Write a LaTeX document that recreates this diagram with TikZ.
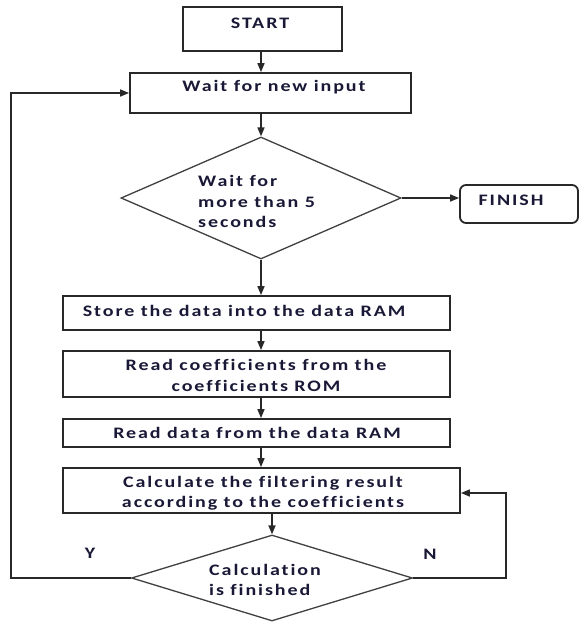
\documentclass[tikz,border=0pt]{standalone}
\usepackage{fontspec}
\setmainfont{Carlito}[LetterSpace=12, FakeStretch=1.25, Ligatures=NoCommon]
\usetikzlibrary{shapes.geometric,arrows.meta}
\definecolor{textc}{RGB}{25,25,55}
\definecolor{linec}{RGB}{40,40,40}
\begin{document}
\begin{tikzpicture}[x=1pt,y=-1pt,
  box/.style={draw=linec, line width=1.8pt, rectangle, inner sep=0pt},
  rbox/.style={box, rounded corners=6pt},
  dia/.style={draw=black!75, line width=1.3pt, diamond, inner sep=0pt},
  txt/.style={font=\bfseries\fontsize{16}{20.5}\selectfont, text=textc, inner sep=0pt, align=center},
  arr/.style={draw=linec, line width=1.6pt, -{Triangle[length=9pt,width=7pt]}}
]
\useasboundingbox (0,0) rectangle (580,623);
\fill[white] (0,0) rectangle (580,623);

% shapes
\node[box, minimum width=159, minimum height=44] (start) at (262.5,29) {};
\node[box, minimum width=281, minimum height=40] (wait) at (270.5,93) {};
\node[dia, minimum width=280, minimum height=122] (d1) at (261,198) {};
\node[rbox, minimum width=118, minimum height=38] (finish) at (519,204) {};
\node[box, minimum width=387, minimum height=34] (store) at (256.5,313) {};
\node[box, minimum width=387, minimum height=46] (rc) at (256.5,374) {};
\node[box, minimum width=387, minimum height=28] (rd) at (256.5,433) {};
\node[box, minimum width=397, minimum height=45] (calc) at (261.5,490.5) {};
\node[dia, minimum width=281, minimum height=86] (d2) at (272,578) {};

% texts
\node[txt] (tstart) at (260,23) {START};
\node[txt] (twait) at (274,87) {Wait for new input};
\node[txt, align=left, anchor=west] (td1) at (198,201.5) {Wait for\\more than 5\\seconds};
\node[txt] (tfinish) at (511,200) {FINISH};
\node[txt] (tstore) at (244,311) {Store the data into the data RAM};
\node[txt] (trc) at (256,375.5) {Read coefficients from the\\coefficients ROM};
\node[txt] (trd) at (257,433) {Read data from the data RAM};
\node[txt] (tcalc) at (263,493) {Calculate the filtering result\\according to the coefficients};
\node[txt, align=left, anchor=west] (td2) at (209,580) {Calculation\\is finished};
\node[txt] (ylab) at (90,553) {Y};
\node[txt] (nlab) at (430,554) {N};

% connectors
\draw[arr] (d1.north |- start.south) -- (d1.north |- wait.north);
\draw[arr] (d1.north |- wait.south) -- (d1.north);
\draw[arr] (d1.east) -- (d1.east -| finish.west);
\draw[arr] (d1.south) -- (d1.south |- store.north);
\draw[arr] (d1.south |- store.south) -- (d1.south |- rc.north);
\draw[arr] (d1.south |- rc.south) -- (d1.south |- rd.north);
\draw[arr] (d1.south |- rd.south) -- (d1.south |- calc.north);
\draw[arr] (d2.north |- calc.south) -- (d2.north);
\coordinate (yc) at (11,578);
\coordinate (nc) at (506,578);
\draw[arr] (d2.west) -- (yc) |- (wait.west);
\draw[arr] (d2.east) -- (nc) |- ([yshift=-2.5pt]calc.east);
\end{tikzpicture}
\end{document}
